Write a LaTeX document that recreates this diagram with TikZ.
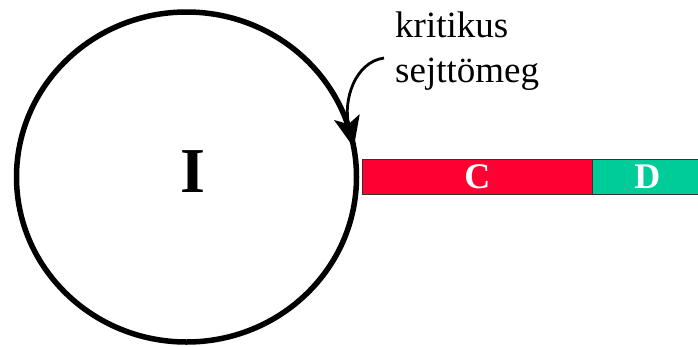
\documentclass[tikz,border=0pt]{standalone}
\usepackage{fontspec}
\setmainfont{Liberation Serif}
\usetikzlibrary{shapes.geometric,arrows.meta}
\definecolor{barred}{RGB}{255,0,51}
\definecolor{bargreen}{RGB}{0,204,153}
\begin{document}
\begin{tikzpicture}[x=1pt,y=-1pt,
  cycle/.style={ellipse,draw,line width=5.5pt,minimum width=340pt,minimum height=330pt,outer sep=0pt,inner sep=0pt},
  bar/.style={draw=black!80,line width=0.8pt,inner sep=0pt,anchor=north west,minimum height=35pt,
    text=white,font=\rmfamily\fontsize{36}{36}\selectfont\bfseries},
  annot/.style={align=left,inner sep=0pt,anchor=north west,font=\rmfamily\fontsize{37}{45}\selectfont},
  pointer/.style={line width=2.8pt,-{Stealth[length=31pt,width=26pt,inset=7pt]}}]
  \useasboundingbox (0,0) rectangle (698,346);
  % the cycle
  \node[cycle] (circ) at (186.5,177) {};
  \node[font=\rmfamily\fontsize{64}{64}\selectfont\bfseries] (I) at (193,172) {I};
  % the two bars leaving the cycle
  \node[bar,fill=barred,minimum width=230pt] (C) at (362,159) {C};
  \node[bar,fill=bargreen,minimum width=110pt] (D) at (592,159) {D};
  % annotation and its pointer
  \node[annot] (note) at (395,12) {kritikus\\sejttömeg};
  \coordinate (src) at (384,58);
  \draw[pointer] (src) .. controls (355,62) and (343,100) .. (circ.10);
\end{tikzpicture}
\end{document}
